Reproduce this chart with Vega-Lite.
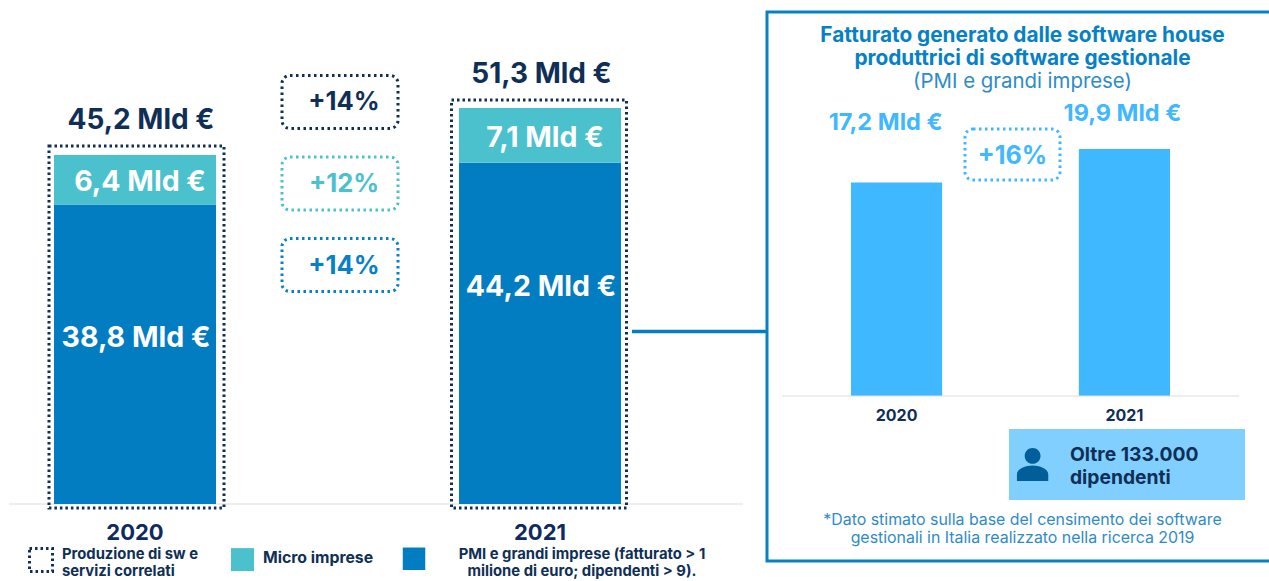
{
"$schema":"https://vega.github.io/schema/vega-lite/v6.json",
"width":1269,"height":581,"padding":0,
"autosize":{"type":"fit","contains":"padding"},
"background":"#ffffff",
"view":{"stroke":null},
"config":{"text":{"font":"Inter"},"axis":{"grid":false}},
"datasets":{
"market":[
{"year":"2020","series":"PMI e grandi imprese","rank":1,"value":38.8,"label":"38,8 Mld €"},
{"year":"2020","series":"Micro imprese","rank":2,"value":6.4,"label":"6,4 Mld €"},
{"year":"2021","series":"PMI e grandi imprese","rank":1,"value":44.2,"label":"44,2 Mld €"},
{"year":"2021","series":"Micro imprese","rank":2,"value":7.1,"label":"7,1 Mld €"}],
"totals":[
{"year":"2020","value":45.2,"label":"45,2 Mld €"},
{"year":"2021","value":51.3,"label":"51,3 Mld €"}],
"growth":[
{"series":"Produzione di sw e servizi correlati","label":"+14%"},
{"series":"Micro imprese","label":"+12%"},
{"series":"PMI e grandi imprese","label":"+14%"}],
"software":[
{"year":"2020","value":17.2,"label":"17,2 Mld €"},
{"year":"2021","value":19.9,"label":"19,9 Mld €"}]
},
"resolve":{"scale":{"x":"independent","y":"independent","color":"independent","stroke":"independent"},"axis":{"x":"independent","y":"independent"}},
"layer":[
{"mark":{"type":"rule","color":"#dddddd","strokeWidth":1},
 "data":{"values":[{"a":1}]},
 "encoding":{"x":{"datum":0,"scale":{"domain":[0,1],"range":[9,743]},"axis":null},"x2":{"datum":1},
 "y":{"datum":0,"scale":{"domain":[0,1],"range":[504,400]},"axis":null}}},
{"mark":{"type":"rule","color":"#027DC2","strokeWidth":3.5},
 "data":{"values":[{"a":1}]},
 "encoding":{"x":{"datum":0,"scale":{"domain":[0,1],"range":[632,766]},"axis":null},"x2":{"datum":1},
 "y":{"datum":0,"scale":{"domain":[0,1],"range":[331.5,300]},"axis":null}}},
{"mark":{"type":"rect","fill":"transparent","stroke":"#0781C6","strokeWidth":3},
 "data":{"values":[{"a":1}]},
 "encoding":{"x":{"datum":0,"scale":{"domain":[0,1],"range":[767,1278]},"axis":null},"x2":{"datum":1},
 "y":{"datum":0,"scale":{"domain":[0,1],"range":[12,561]},"axis":null},"y2":{"datum":1}}},
{"encoding":{"x":{"field":"year","type":"nominal","axis":null,"scale":{"type":"band","domain":["2020","2021"],"range":[54,621],"paddingInner":0.6,"paddingOuter":0}}},
 "layer":[
 {"data":{"name":"market"},
  "transform":[{"stack":"value","groupby":["year"],"sort":[{"field":"rank","order":"ascending"}],"as":["y0","y1"]},{"calculate":"(datum.y0+datum.y1)/2","as":"mid"}],
  "layer":[
  {"mark":{"type":"bar"},
   "encoding":{"y":{"field":"y0","type":"quantitative","axis":null,"scale":{"domain":[0,51.3],"range":[504,108],"nice":false}},"y2":{"field":"y1"},
   "color":{"field":"series","type":"nominal","legend":null,"scale":{"domain":["PMI e grandi imprese","Micro imprese"],"range":["#027DC2","#4BC1CE"]}}}},
  {"transform":[{"filter":"datum.rank==2"}],"mark":{"type":"text","fontWeight":700,"fontSize":28.5,"color":"#ffffff","baseline":"middle","dx":5,"dy":2.5},
   "encoding":{"y":{"field":"mid","type":"quantitative","axis":null,"scale":{"domain":[0,51.3],"range":[504,108],"nice":false}},"text":{"field":"label"}}},
  {"transform":[{"filter":"datum.rank==1 && datum.year=='2020'"}],"mark":{"type":"text","fontWeight":700,"fontSize":28.5,"color":"#ffffff","baseline":"middle","dx":1,"dy":-16.5},
   "encoding":{"y":{"field":"mid","type":"quantitative","axis":null,"scale":{"domain":[0,51.3],"range":[504,108],"nice":false}},"text":{"field":"label"}}},
  {"transform":[{"filter":"datum.rank==1 && datum.year=='2021'"}],"mark":{"type":"text","fontWeight":700,"fontSize":28.5,"color":"#ffffff","baseline":"middle","dx":1,"dy":-46.5},
   "encoding":{"y":{"field":"mid","type":"quantitative","axis":null,"scale":{"domain":[0,51.3],"range":[504,108],"nice":false}},"text":{"field":"label"}}}
  ]},
 {"data":{"name":"totals"},
  "layer":[
  {"transform":[{"filter":"datum.year=='2020'"}],"mark":{"type":"bar","width":175,"fill":"transparent","stroke":"#0F2F57","strokeWidth":3,"strokeDash":[2.5,3],"xOffset":1.5,"yOffset":-9,"y2Offset":4},
   "encoding":{"y":{"field":"value","type":"quantitative","axis":null,"scale":{"domain":[0,51.3],"range":[504,108],"nice":false}},"y2":{"datum":0}}},
  {"transform":[{"filter":"datum.year=='2021'"}],"mark":{"type":"bar","width":175,"fill":"transparent","stroke":"#0F2F57","strokeWidth":3,"strokeDash":[2.5,3],"xOffset":-1,"yOffset":-8,"y2Offset":4},
   "encoding":{"y":{"field":"value","type":"quantitative","axis":null,"scale":{"domain":[0,51.3],"range":[504,108],"nice":false}},"y2":{"datum":0}}},
  {"transform":[{"filter":"datum.year=='2020'"}],"mark":{"type":"text","fontWeight":700,"fontSize":28,"color":"#0F2F57","baseline":"middle","dy":-34,"dx":6},
   "encoding":{"y":{"field":"value","type":"quantitative","axis":null,"scale":{"domain":[0,51.3],"range":[504,108],"nice":false}},"text":{"field":"label"}}},
  {"transform":[{"filter":"datum.year=='2021'"}],"mark":{"type":"text","fontWeight":700,"fontSize":28,"color":"#0F2F57","baseline":"middle","dy":-33.5,"dx":1.5},
   "encoding":{"y":{"field":"value","type":"quantitative","axis":null,"scale":{"domain":[0,51.3],"range":[504,108],"nice":false}},"text":{"field":"label"}}},
  {"mark":{"type":"text","fontWeight":700,"fontSize":22,"color":"#0F2A63","baseline":"middle","dy":28.5},
   "encoding":{"y":{"datum":0,"scale":{"domain":[0,51.3],"range":[504,108],"nice":false},"axis":null},"text":{"field":"year"}}}
  ]}
 ]},
{"data":{"name":"growth"},
 "encoding":{"y":{"field":"series","type":"nominal","axis":null,"scale":{"type":"band","domain":["Produzione di sw e servizi correlati","Micro imprese","PMI e grandi imprese"],"range":[75,292],"paddingInner":0.34,"paddingOuter":0}}},
 "layer":[
 {"mark":{"type":"bar","height":53,"fill":"transparent","strokeWidth":3,"strokeDash":[2.5,3.5],"cornerRadius":8},
  "encoding":{"x":{"datum":0,"scale":{"domain":[0,1],"range":[282,398]},"axis":null},"x2":{"datum":1},
  "stroke":{"field":"series","type":"nominal","legend":null,"scale":{"domain":["Produzione di sw e servizi correlati","Micro imprese","PMI e grandi imprese"],"range":["#0F2F57","#4BC1CE","#0781C6"]}}}},
 {"mark":{"type":"text","fontWeight":700,"fontSize":25.5,"baseline":"middle","dx":4,"dy":0.5},
  "encoding":{"x":{"datum":0.5,"scale":{"domain":[0,1],"range":[282,398]},"axis":null},"text":{"field":"label"},
  "color":{"field":"series","type":"nominal","legend":null,"scale":{"domain":["Produzione di sw e servizi correlati","Micro imprese","PMI e grandi imprese"],"range":["#0F2F57","#4BC1CE","#0781C6"]}}}}
 ]},
{"data":{"name":"software"},
 "encoding":{"x":{"field":"year","type":"nominal","axis":null,"scale":{"type":"band","domain":["2020","2021"],"range":[851,1170],"paddingInner":0.6,"paddingOuter":0}},
 "y":{"field":"value","type":"quantitative","axis":null,"scale":{"domain":[0,19.9],"range":[396,149],"nice":false}}},
 "layer":[
 {"mark":{"type":"bar","color":"#40B8FF"},"encoding":{"y2":{"datum":0}}},
 {"transform":[{"filter":"datum.year=='2020'"}],"mark":{"type":"text","fontWeight":700,"fontSize":23.5,"color":"#40B8FF","baseline":"middle","dx":-11,"dy":-59.5},"encoding":{"text":{"field":"label"}}},
 {"transform":[{"filter":"datum.year=='2021'"}],"mark":{"type":"text","fontWeight":700,"fontSize":23.5,"color":"#40B8FF","baseline":"middle","dx":-2,"dy":-35},"encoding":{"text":{"field":"label"}}},
 {"mark":{"type":"text","fontWeight":700,"fontSize":16,"color":"#0F2F57","baseline":"middle","dy":19.5},
  "encoding":{"y":{"datum":0,"type":"quantitative","axis":null,"scale":{"domain":[0,19.9],"range":[396,149],"nice":false}},"text":{"field":"year"}}}
 ]},
{"mark":{"type":"rule","color":"#dddddd","strokeWidth":1},
 "data":{"values":[{"a":1}]},
 "encoding":{"x":{"datum":0,"scale":{"domain":[0,1],"range":[782,1239]},"axis":null},"x2":{"datum":1},
 "y":{"datum":0,"scale":{"domain":[0,1],"range":[396,300]},"axis":null}}},
{"data":{"values":[{"label":"+16%"}]},
 "layer":[
 {"mark":{"type":"rect","fill":"transparent","stroke":"#40B8FF","strokeWidth":3,"strokeDash":[2.5,3.5],"cornerRadius":8},
  "encoding":{"x":{"datum":0,"scale":{"domain":[0,1],"range":[965,1060]},"axis":null},"x2":{"datum":1},
  "y":{"datum":0,"scale":{"domain":[0,1],"range":[180,129]},"axis":null},"y2":{"datum":1}}},
 {"mark":{"type":"text","fontWeight":700,"fontSize":25,"color":"#40B8FF","baseline":"middle","dy":1},
  "encoding":{"x":{"datum":0.5,"scale":{"domain":[0,1],"range":[965,1060]},"axis":null},
  "y":{"datum":0.5,"scale":{"domain":[0,1],"range":[180,129]},"axis":null},"text":{"field":"label"}}}
 ]},
{"mark":{"type":"text","fontWeight":700,"fontSize":20.8,"color":"#0781C6","baseline":"middle"},
 "data":{"values":[{"line":"Fatturato generato dalle software house"},{"line":"produttrici di software gestionale"}]},
 "encoding":{"x":{"datum":0.5,"scale":{"domain":[0,1],"range":[767,1278]},"axis":null},
 "y":{"field":"line","type":"nominal","axis":null,"scale":{"type":"point","padding":0,"domain":["Fatturato generato dalle software house","produttrici di software gestionale"],"range":[36,59]}},
 "text":{"field":"line"}}},
{"mark":{"type":"text","fontWeight":400,"fontSize":20.4,"color":"#2E8BC8","baseline":"middle"},
 "data":{"values":[{"line":"(PMI e grandi imprese)"}]},
 "encoding":{"x":{"datum":0.5,"scale":{"domain":[0,1],"range":[767,1278]},"axis":null},
 "y":{"datum":0.5,"scale":{"domain":[0,1],"range":[14,150]},"axis":null},
 "text":{"field":"line"}}},
{"mark":{"type":"rect","fill":"#80CFFF"},
 "data":{"values":[{"a":1}]},
 "encoding":{"x":{"datum":0,"scale":{"domain":[0,1],"range":[1009,1245]},"axis":null},"x2":{"datum":1},
 "y":{"datum":0,"scale":{"domain":[0,1],"range":[429,500]},"axis":null},"y2":{"datum":1}}},
{"mark":{"type":"point","filled":true,"color":"#005F99","opacity":1,"size":1089,"shape":"M-0.48,-0.52a0.48,0.48 0 1,0 0.96,0a0.48,0.48 0 1,0 -0.96,0Z M-0.95,1V0.6C-0.95,0.25 -0.4,0.06 0,0.06C0.4,0.06 0.95,0.25 0.95,0.6V1Z"},
 "data":{"values":[{"a":1}]},
 "encoding":{"x":{"datum":0.1,"scale":{"domain":[0,1],"range":[1009,1245]},"axis":null},
 "y":{"datum":0.5,"scale":{"domain":[0,1],"range":[429,500]},"axis":null}}},
{"mark":{"type":"text","fontWeight":700,"fontSize":19.3,"color":"#0F2F57","baseline":"middle","align":"left"},
 "data":{"values":[{"line":"Oltre 133.000"},{"line":"dipendenti"}]},
 "encoding":{"x":{"datum":0.258,"scale":{"domain":[0,1],"range":[1009,1245]},"axis":null},
 "y":{"field":"line","type":"nominal","axis":null,"scale":{"type":"point","padding":0,"domain":["Oltre 133.000","dipendenti"],"range":[455,477.5]}},
 "text":{"field":"line"}}},
{"mark":{"type":"text","fontWeight":400,"fontSize":15.9,"color":"#2E8BC8","baseline":"middle"},
 "data":{"values":[{"line":"*Dato stimato sulla base del censimento dei software"},{"line":"gestionali in Italia realizzato nella ricerca 2019"}]},
 "encoding":{"x":{"datum":0.5,"scale":{"domain":[0,1],"range":[767,1278]},"axis":null},
 "y":{"field":"line","type":"nominal","axis":null,"scale":{"type":"point","padding":0,"domain":["*Dato stimato sulla base del censimento dei software","gestionali in Italia realizzato nella ricerca 2019"],"range":[520,538]}},
 "text":{"field":"line"}}},
{"mark":{"type":"point","filled":false,"shape":"square","size":529,"stroke":"#0F2F57","strokeWidth":3,"strokeDash":[2.5,3],"opacity":1},
 "data":{"values":[{"series":"Produzione di sw e servizi correlati"}]},
 "encoding":{"x":{"datum":0.0435,"scale":{"domain":[0,1],"range":[9,745]},"axis":null},"y":{"datum":0.46,"scale":{"domain":[0,1],"range":[547,575]},"axis":null}}},
{"mark":{"type":"point","filled":true,"shape":"square","size":529,"color":"#4BC1CE","opacity":1},
 "data":{"values":[{"series":"Micro imprese"}]},
 "encoding":{"x":{"datum":0.3173,"scale":{"domain":[0,1],"range":[9,745]},"axis":null},"y":{"datum":0.45,"scale":{"domain":[0,1],"range":[547,575]},"axis":null}}},
{"mark":{"type":"point","filled":true,"shape":"square","size":506,"color":"#027DC2","opacity":1},
 "data":{"values":[{"series":"PMI e grandi imprese"}]},
 "encoding":{"x":{"datum":0.5503,"scale":{"domain":[0,1],"range":[9,745]},"axis":null},"y":{"datum":0.42,"scale":{"domain":[0,1],"range":[547,575]},"axis":null}}},
{"mark":{"type":"text","fontWeight":700,"fontSize":14.8,"color":"#0F2F57","baseline":"middle","align":"left"},
 "data":{"values":[{"line":"Produzione di sw e"},{"line":"servizi correlati"}]},
 "encoding":{"x":{"datum":0.072,"scale":{"domain":[0,1],"range":[9,745]},"axis":null},
 "y":{"field":"line","type":"nominal","axis":null,"scale":{"type":"point","padding":0,"domain":["Produzione di sw e","servizi correlati"],"range":[555,572]}},
 "text":{"field":"line"}}},
{"mark":{"type":"text","fontWeight":700,"fontSize":15.8,"color":"#0F2F57","baseline":"middle","align":"left"},
 "data":{"values":[{"line":"Micro imprese"}]},
 "encoding":{"x":{"datum":0.3451,"scale":{"domain":[0,1],"range":[9,745]},"axis":null},
 "y":{"datum":0.39,"scale":{"domain":[0,1],"range":[547,575]},"axis":null},
 "text":{"field":"line"}}},
{"mark":{"type":"text","fontWeight":700,"fontSize":14.8,"color":"#0F2F57","baseline":"middle"},
 "data":{"values":[{"line":"PMI e grandi imprese (fatturato > 1"},{"line":"milione di euro; dipendenti > 9)."}]},
 "encoding":{"x":{"datum":0.7785,"scale":{"domain":[0,1],"range":[9,745]},"axis":null},
 "y":{"field":"line","type":"nominal","axis":null,"scale":{"type":"point","padding":0,"domain":["PMI e grandi imprese (fatturato > 1","milione di euro; dipendenti > 9)."],"range":[555,572]}},
 "text":{"field":"line"}}}
]
}
